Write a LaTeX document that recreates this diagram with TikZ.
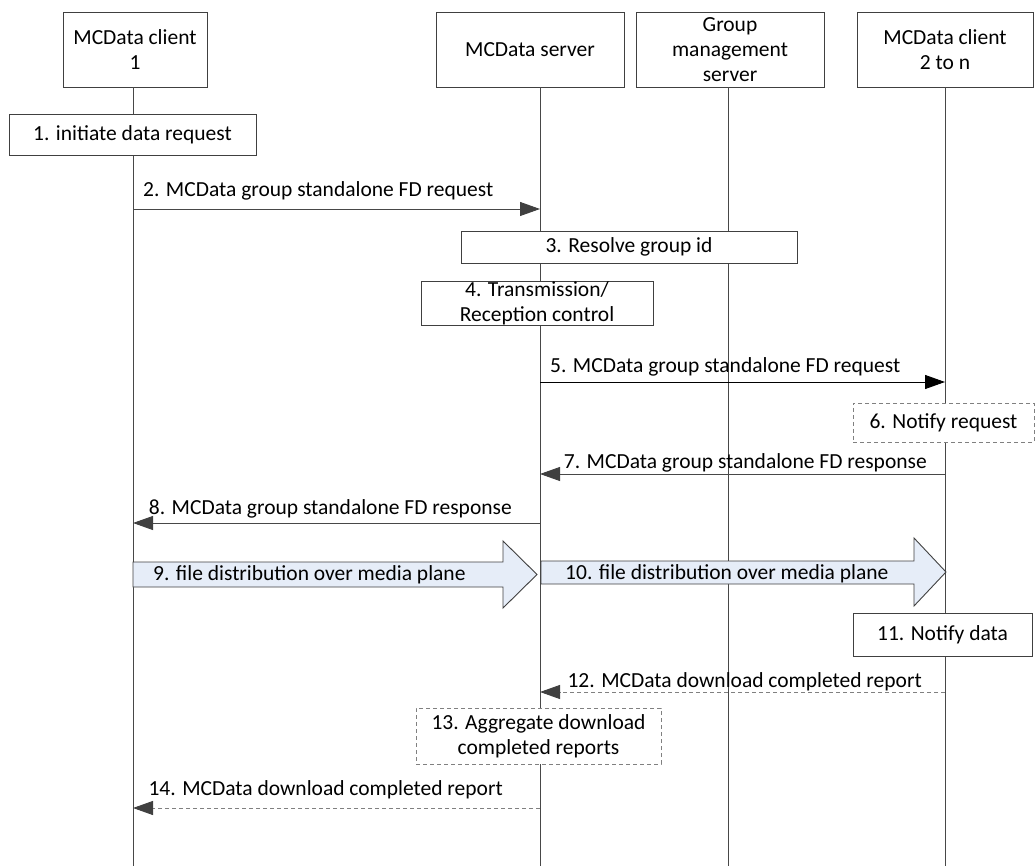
\documentclass[tikz,border=0pt]{standalone}
\usepackage{fontspec}
\setmainfont{Carlito}
\usetikzlibrary{arrows.meta}

\definecolor{boxgray}{RGB}{64,64,64}
\definecolor{linegray}{RGB}{72,72,72}
\definecolor{headgray}{RGB}{64,64,64}
\definecolor{dashgray}{RGB}{128,128,128}
\definecolor{planeblue}{RGB}{230,237,248}

\tikzset{
  every node/.style={font=\fontsize{21.5}{25}\selectfont},
  entity/.style={draw=boxgray, line width=0.9pt, fill=white, align=center, inner sep=0pt},
  notebox/.style={entity, draw=dashgray, dash pattern=on 4pt off 3pt},
  life/.style={draw=linegray, line width=0.9pt},
  msg/.style={draw=linegray, line width=0.9pt, -{Triangle[length=20pt,width=14pt,color=headgray]}},
  blackmsg/.style={draw=black, line width=0.9pt, -{Triangle[length=20pt,width=14pt,color=black]}},
  dashmsg/.style={draw=dashgray, line width=0.9pt, dash pattern=on 4pt off 3pt, -{Triangle[length=20pt,width=14pt,color=headgray]}},
  plane/.style={draw=boxgray, line width=0.9pt, fill=planeblue},
  lbl/.style={inner sep=0pt}
}

\begin{document}
\begin{tikzpicture}[x=1pt,y=-1pt]
    \useasboundingbox (0,0) rectangle (1036,866);
    % entities
    \node[entity, minimum width=144pt, minimum height=75pt] (hc1) at (135,49.5) {MCData client\\1};
    \node[entity, minimum width=188pt, minimum height=75pt] (hsv) at (530,49.5) {MCData server};
    \node[entity, minimum width=188pt, minimum height=75pt] (hgm) at (730,49.5) {Group\\management\\server};
    \node[entity, minimum width=176pt, minimum height=75pt] (hc2) at (945,49.5) {MCData client\\2 to n};
    % lifelines
    \coordinate (l1) at (133,0);
    \coordinate (l2) at (540,0);
    \coordinate (l3) at (728,0);
    \coordinate (l4) at (945,0);
    \coordinate (bot) at (0,866);
    \foreach \l/\h in {l1/hc1, l2/hsv, l3/hgm, l4/hc2}
      \draw[life] (\l |- \h.south) -- (\l |- bot);
    % steps
    \node[entity, minimum width=247pt, minimum height=41pt] (s1) at (132.5,134.5) {1. initiate data request};
    \node[entity, minimum width=336pt, minimum height=32pt] (s3) at (629,247) {3. Resolve group id};
    \node[entity, minimum width=232pt, minimum height=43pt] (s4) at (537,303.5) {4. Transmission/\\Reception control};
    \node[notebox, minimum width=181pt, minimum height=39pt] (s6) at (943.5,422.5) {6. Notify request};
    \node[entity, minimum width=179pt, minimum height=43pt] (s11) at (942.5,634.5) {11. Notify data};
    \node[notebox, minimum width=245pt, minimum height=56pt] (s13) at (538.5,736) {13. Aggregate download\\completed reports};
    % messages
    \coordinate (r2) at (0,209);
    \coordinate (r5) at (0,382);
    \coordinate (r7) at (0,474);
    \coordinate (r8) at (0,523);
    \coordinate (r12) at (0,692);
    \coordinate (r14) at (0,808);
    \draw[msg] (l1 |- r2) -- (l2 |- r2);
    \node[lbl, anchor=base west] (t2) at (143,197) {2. MCData group standalone FD request};
    \draw[blackmsg] (l2 |- r5) -- (l4 |- r5);
    \node[lbl, anchor=base west] (t5) at (550,373) {5. MCData group standalone FD request};
    \draw[msg] (l4 |- r7) -- (l2 |- r7);
    \node[lbl, anchor=base east] (t7) at (927,468) {7. MCData group standalone FD response};
    \draw[msg] (l2 |- r8) -- (l1 |- r8);
    \node[lbl, anchor=base east] (t8) at (512,514) {8. MCData group standalone FD response};
    \draw[dashmsg] (l4 |- r12) -- (l2 |- r12);
    \node[lbl, anchor=base east] (t12) at (922,687) {12. MCData download completed report};
    \draw[dashmsg] (l2 |- r14) -- (l1 |- r14);
    \node[lbl, anchor=base east] (t14) at (503,795) {14. MCData download completed report};
    % media plane
    \draw[plane] (133,562) -- (503,562) -- (503,541) -- (537,574.5) -- (503,608) -- (503,587) -- (133,587) -- cycle;
    \node[lbl, anchor=base west] (t9) at (153,580) {9. file distribution over media plane};
    \draw[plane] (541,561) -- (914,561) -- (914,538) -- (946,572) -- (914,606) -- (914,584) -- (541,584) -- cycle;
    \node[lbl, anchor=base west] (t10) at (565,579) {10. file distribution over media plane};
\end{tikzpicture}
\end{document}
